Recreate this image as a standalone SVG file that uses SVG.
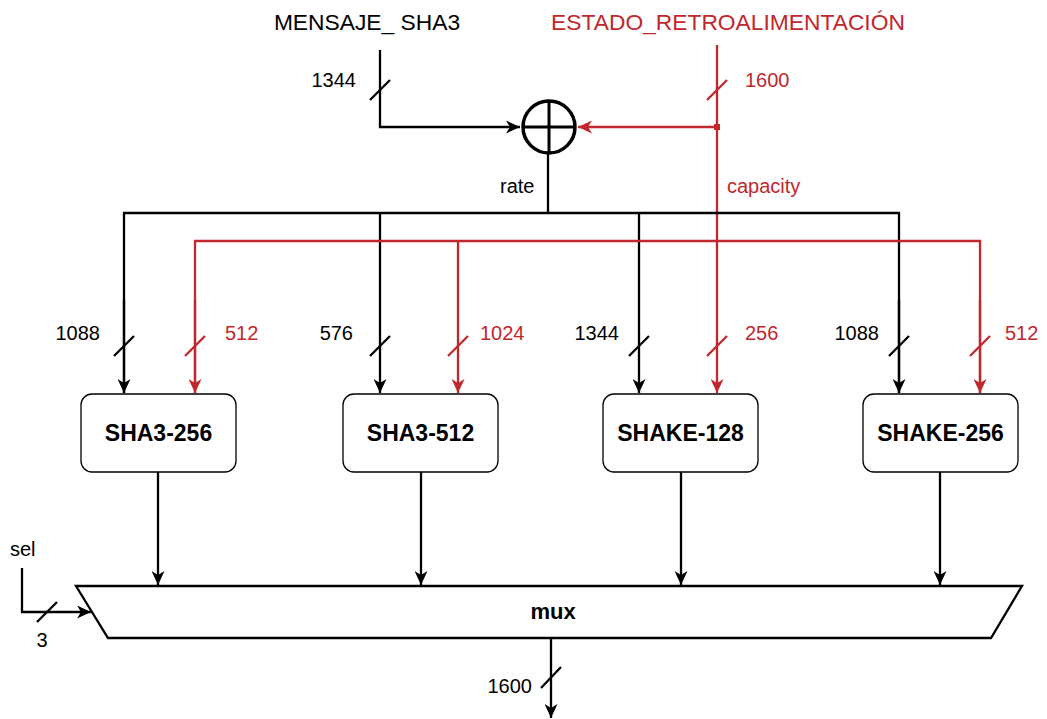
<svg xmlns="http://www.w3.org/2000/svg" width="1047" height="719" viewBox="0 0 1047 719">
<style>
text{font-family:"Liberation Sans",Arial,sans-serif}
.lbl{font-size:20px;fill:#000}
.red{fill:#C1272D}
.title{font-size:22.8px}
.bold{font-size:23px;font-weight:bold;text-anchor:middle}
.k{stroke:#000;stroke-width:2.3;fill:none}
.r{stroke:#C1272D;stroke-width:2.3;fill:none}
.box{fill:#fff;stroke:#000;stroke-width:1.3}
</style>
<defs>
<marker id="ak" markerUnits="userSpaceOnUse" markerWidth="15" markerHeight="13" refX="14" refY="6.5" orient="auto">
<path d="M0,0 L14,6.5 L0,13 L4,6.5 Z" fill="#000"/>
</marker>
<marker id="ar" markerUnits="userSpaceOnUse" markerWidth="15" markerHeight="13" refX="14" refY="6.5" orient="auto">
<path d="M0,0 L14,6.5 L0,13 L4,6.5 Z" fill="#C1272D"/>
</marker>
</defs>
<rect width="1047" height="719" fill="#fff"/>

<g id="titles">
<text class="title" x="367" y="30" text-anchor="middle">MENSAJE_ SHA3</text>
<text class="title red" x="728" y="30" text-anchor="middle">ESTADO_RETROALIMENTACIÓN</text>
</g>

<g id="connectors">
<!-- message input -->
<polyline class="k" points="380,50 380,127 520,127" marker-end="url(#ak)"/>
<line class="k" x1="370" y1="100" x2="390" y2="80"/>
<!-- state feedback -->
<line class="r" x1="717" y1="45" x2="717" y2="393" marker-end="url(#ar)"/>
<line class="r" x1="707" y1="100" x2="727" y2="80"/>
<line class="r" x1="717" y1="127" x2="578" y2="127" marker-end="url(#ar)"/>
<rect x="714" y="124" width="6" height="6" fill="#C1272D"/>
<!-- rate bus -->
<line class="k" x1="548" y1="154" x2="548" y2="213"/>
<polyline class="k" points="124,393 124,213 899,213 899,393"/>
<line class="k" x1="124" y1="300" x2="124" y2="393" marker-end="url(#ak)"/>
<line class="k" x1="899" y1="300" x2="899" y2="393" marker-end="url(#ak)"/>
<line class="k" x1="380" y1="213" x2="380" y2="393" marker-end="url(#ak)"/>
<line class="k" x1="639" y1="213" x2="639" y2="393" marker-end="url(#ak)"/>
<!-- capacity bus -->
<polyline class="r" points="195,393 195,241 980,241 980,393"/>
<line class="r" x1="195" y1="300" x2="195" y2="393" marker-end="url(#ar)"/>
<line class="r" x1="980" y1="300" x2="980" y2="393" marker-end="url(#ar)"/>
<line class="r" x1="458" y1="241" x2="458" y2="393" marker-end="url(#ar)"/>
<!-- width ticks -->
<line class="k" x1="114" y1="356" x2="134" y2="336"/>
<line class="r" x1="185" y1="356" x2="205" y2="336"/>
<line class="k" x1="370" y1="356" x2="390" y2="336"/>
<line class="r" x1="448" y1="356" x2="468" y2="336"/>
<line class="k" x1="629" y1="356" x2="649" y2="336"/>
<line class="r" x1="707" y1="356" x2="727" y2="336"/>
<line class="k" x1="889" y1="356" x2="909" y2="336"/>
<line class="r" x1="970" y1="356" x2="990" y2="336"/>
<!-- outputs to mux -->
<line class="k" x1="158" y1="472" x2="158" y2="585" marker-end="url(#ak)"/>
<line class="k" x1="421" y1="472" x2="421" y2="585" marker-end="url(#ak)"/>
<line class="k" x1="681" y1="472" x2="681" y2="585" marker-end="url(#ak)"/>
<line class="k" x1="940" y1="472" x2="940" y2="585" marker-end="url(#ak)"/>
<!-- sel -->
<polyline class="k" points="22,568 22,612 91,612" marker-end="url(#ak)"/>
<line class="k" x1="37" y1="622" x2="57" y2="602"/>
<!-- output -->
<line class="k" x1="551" y1="638" x2="551" y2="718" marker-end="url(#ak)"/>
<line class="k" x1="541" y1="688" x2="561" y2="667"/>
</g>

<g id="xor">
<circle cx="549" cy="127" r="26" fill="#fff" stroke="#000" stroke-width="3.5"/>
<line x1="523" y1="127" x2="575" y2="127" stroke="#000" stroke-width="3"/>
<line x1="549" y1="101" x2="549" y2="153" stroke="#000" stroke-width="3"/>
</g>

<g id="labels">
<text class="lbl" x="356" y="87" text-anchor="end">1344</text>
<text class="lbl red" x="745" y="87">1600</text>
<text class="lbl" x="500" y="193">rate</text>
<text class="lbl red" x="727" y="193">capacity</text>
<text class="lbl" x="100" y="340" text-anchor="end">1088</text>
<text class="lbl red" x="225" y="340">512</text>
<text class="lbl" x="353" y="340" text-anchor="end">576</text>
<text class="lbl red" x="480" y="340">1024</text>
<text class="lbl" x="619" y="340" text-anchor="end">1344</text>
<text class="lbl red" x="745" y="340">256</text>
<text class="lbl" x="879" y="340" text-anchor="end">1088</text>
<text class="lbl red" x="1005" y="340">512</text>
<text class="lbl" x="10" y="556">sel</text>
<text class="lbl" x="42" y="647" text-anchor="middle">3</text>
<text class="lbl" x="532" y="693" text-anchor="end">1600</text>
</g>

<g id="sha3-256">
<rect class="box" x="81" y="394" width="155" height="78" rx="11"/>
<text class="bold" x="158.5" y="441">SHA3-256</text>
</g>
<g id="sha3-512">
<rect class="box" x="343" y="394" width="155" height="78" rx="11"/>
<text class="bold" x="420.5" y="441">SHA3-512</text>
</g>
<g id="shake-128">
<rect class="box" x="603" y="394" width="155" height="78" rx="11"/>
<text class="bold" x="680.5" y="441">SHAKE-128</text>
</g>
<g id="shake-256">
<rect class="box" x="863" y="394" width="155" height="78" rx="11"/>
<text class="bold" x="940.5" y="441">SHAKE-256</text>
</g>

<g id="mux">
<polygon points="76,586 1022,586 991,638 108,638" fill="#fff" stroke="#000" stroke-width="2.3"/>
<text class="bold" x="553" y="619" style="font-size:22px">mux</text>
</g>
</svg>
